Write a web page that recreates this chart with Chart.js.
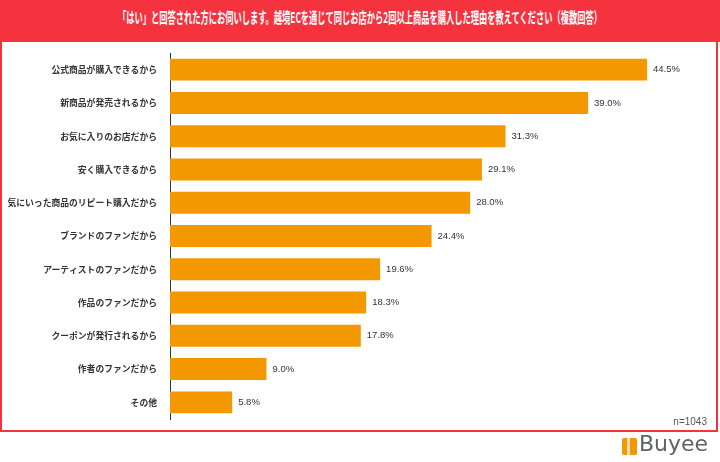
<!DOCTYPE html>
<html>
<head>
<meta charset="utf-8">
<script src="https://cdn.jsdelivr.net/npm/chart.js@4"></script>
<style>
  html, body { margin: 0; padding: 0; background: #fff; }
  #page { position: relative; width: 720px; height: 462px; overflow: hidden; font-family: "Noto Sans CJK JP", sans-serif; }
  #header { position: absolute; left: 0; top: 0; width: 720px; height: 42px; background: #f5333f; }
  #header span { position: absolute; left: 50%; top: 6px; color: #fff; font-weight: bold; font-size: 15px; white-space: nowrap; transform: translateX(-50%) scaleX(0.55); transform-origin: center; }
  #box { position: absolute; left: 0; top: 40px; width: 714px; height: 388px; border: 2px solid #f5333f; }
  #box canvas { display: block; }
  #note { position: absolute; right: 9px; bottom: 3px; font-family: "Liberation Sans", sans-serif; font-size: 10px; color: #555; }
  #logo { position: absolute; left: 622px; top: 434px; height: 24px; }
  #logo .icon { position: absolute; left: 0; top: 4px; width: 15px; height: 17px; background: #f39800; border-radius: 2px; }
  #logo .icon:after { content: ""; position: absolute; left: 5px; top: 0; width: 3px; height: 17px; background: #fff; opacity: 0.7; }
  #logo .txt { position: absolute; left: 17px; top: -3px; font-family: "DejaVu Sans", sans-serif; font-size: 22px; color: #5f6368; }
</style>
</head>
<body>
<div id="page">
  <div id="header"><span>「はい」と回答された方にお伺いします。越境ECを通じて同じお店から2回以上商品を購入した理由を教えてください（複数回答）</span></div>
  <div id="box">
    <canvas id="myChart" width="714" height="388"></canvas>
    <div id="note">n=1043</div>
  </div>
  <div id="logo"><div class="icon"></div><div class="txt">Buyee</div></div>
</div>
<script>
const categories = [
  '公式商品が購入できるから',
  '新商品が発売されるから',
  'お気に入りのお店だから',
  '安く購入できるから',
  '気にいった商品のリピート購入だから',
  'ブランドのファンだから',
  'アーティストのファンだから',
  '作品のファンだから',
  'クーポンが発行されるから',
  '作者のファンだから',
  'その他'
];
const percentages = [44.5, 39.0, 31.3, 29.1, 28.0, 24.4, 19.6, 18.3, 17.8, 9.0, 5.8];

// value labels at the end of each bar
const valueLabels = {
  id: 'valueLabels',
  afterDatasetsDraw(chart) {
    const ctx = chart.ctx;
    const meta = chart.getDatasetMeta(0);
    ctx.save();
    ctx.font = '9.5px "Liberation Sans", sans-serif';
    ctx.fillStyle = '#333';
    ctx.textBaseline = 'middle';
    meta.data.forEach((bar, i) => {
      ctx.fillText(percentages[i].toFixed(1) + '%', bar.x + 6, bar.y);
    });
    ctx.restore();
  }
};

const ctx = document.getElementById('myChart').getContext('2d');
const myChart = new Chart(ctx, {
  type: 'bar',
  data: {
    labels: categories,
    datasets: [{
      data: percentages,
      backgroundColor: '#f39800',
      borderWidth: 0,
      barPercentage: 0.66,
      categoryPercentage: 1
    }]
  },
  options: {
    indexAxis: 'y',
    responsive: false,
    animation: false,
    layout: { padding: { left: 0, top: 11, bottom: 11, right: 10 } },
    plugins: {
      legend: { display: false },
      tooltip: { enabled: false }
    },
    scales: {
      x: {
        display: false,
        min: 0,
        max: 50
      },
      y: {
        afterFit: (scale) => { scale.width = 168; },
        // tick padding also pads the axis ends, so space the labels with tickLength instead
        grid: { color: 'transparent', drawTicks: true, tickLength: 13 },
        border: { display: true, color: '#333', width: 1 },
        ticks: {
          padding: 0,
          color: '#333',
          font: { family: '"Noto Sans CJK JP", sans-serif', size: 8.8, weight: 'bold' }
        }
      }
    }
  },
  plugins: [valueLabels]
});
</script>
</body>
</html>
